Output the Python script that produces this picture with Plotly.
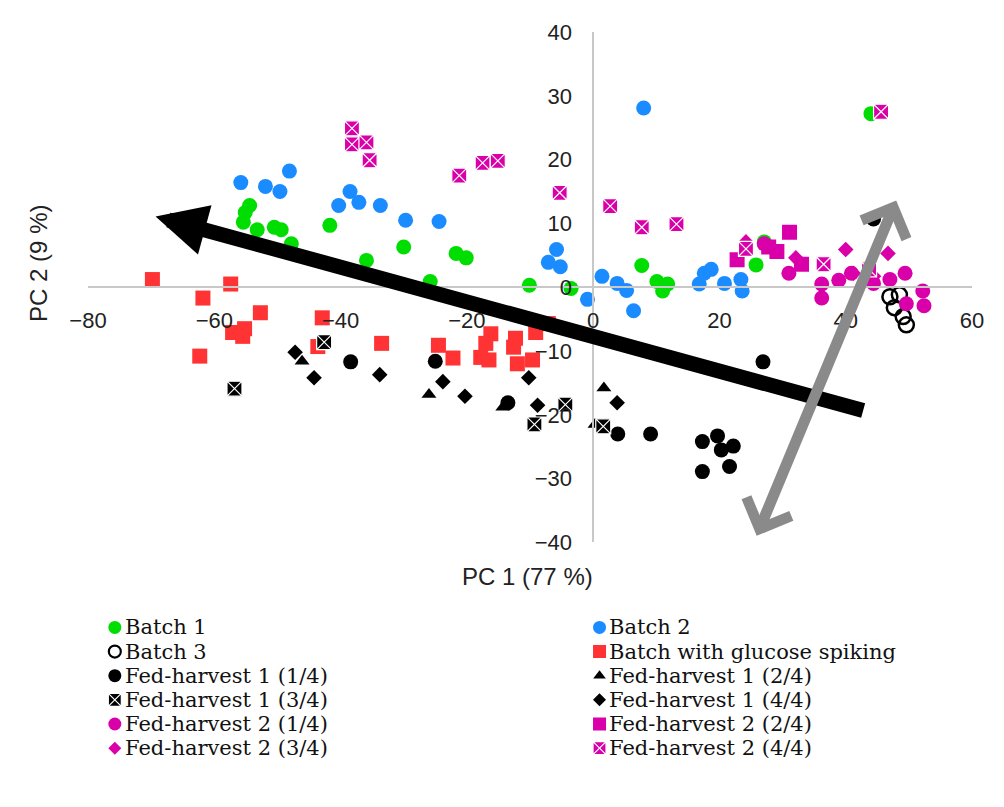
import plotly.graph_objects as go

# ---------------- data ----------------
batch1_x = [-54.4, -55.1, -55.4, -53.2, -50.5, -49.4, -47.8, -41.7, -35.9, -30.0, -25.8, -21.7, -20.1,
            -10.1, -3.5, 7.7, 10.1, 11.0, 11.8, 27.1, 25.8, 44.0]
batch1_y = [12.8, 11.7, 10.2, 9.0, 9.4, 9.0, 6.8, 9.7, 4.2, 6.3, 0.9, 5.3, 4.6,
            0.3, -0.2, 3.4, 0.9, -0.6, 0.5, 7.1, 3.5, 27.2]

batch2_x = [-55.8, -51.9, -49.6, -48.1, -40.3, -38.5, -37.1, -33.7, -29.7, -24.4, -5.8, -7.1, -5.2,
            -0.9, 8.0, 1.4, 3.8, 5.3, 6.4, 16.8, 17.6, 18.7, 20.8, 23.4, 23.6]
batch2_y = [16.4, 15.8, 15.0, 18.2, 12.8, 15.0, 13.3, 12.8, 10.5, 10.3, 5.9, 3.9, 3.2,
            -1.9, 28.1, 1.7, 0.6, -0.5, -3.7, 0.5, 2.2, 2.8, 0.6, 1.2, -0.6]

batch3_x = [47.0, 48.5, 47.7, 49.1, 49.6]
batch3_y = [-1.5, -1.2, -3.2, -4.6, -5.9]

glucose_x = [-69.8, -61.8, -57.4, -52.7, -57.1, -55.2, -55.5, -62.3, -42.9, -43.6, -33.5, -24.5,
             -22.2, -16.2, -17.0, -17.8, -16.5, -12.3, -12.6, -9.1, -12.0, -9.6, -7.1]
glucose_y = [1.2, -1.7, 0.5, -4.0, -7.1, -6.5, -7.7, -10.8, -4.8, -9.3, -8.8, -9.1,
             -11.1, -7.3, -8.8, -11.0, -11.4, -8.0, -9.4, -7.1, -12.0, -11.4, -5.7]

fh1_q1_x = [-38.4, -25.0, -13.5, 26.9, 3.9, 9.1, 17.3, 19.7, 20.3, 22.2, 17.3, 21.6, 44.4]
fh1_q1_y = [-11.7, -11.6, -18.1, -11.7, -23.0, -23.0, -24.2, -23.3, -25.5, -24.9, -28.9, -28.1, 10.7]

fh1_q2_x = [-46.1, -26.0, -14.3, 1.7, 0.3]
fh1_q2_y = [-11.6, -16.8, -18.8, -15.8, -21.5]

fh1_q3_x = [-56.8, -42.6, -4.4, -9.3, 1.6]
fh1_q3_y = [-15.9, -8.6, -18.4, -21.5, -21.8]

fh1_q4_x = [-47.2, -44.2, -33.8, -23.8, -20.3, -10.2, -8.8, 3.8]
fh1_q4_y = [-10.2, -14.2, -13.7, -14.8, -17.1, -14.2, -18.5, -18.1]

fh2_q1_x = [27.1, 31.0, 36.2, 36.2, 38.9, 40.9, 44.4, 47.0, 49.4, 49.6, 52.2, 52.4]
fh2_q1_y = [6.8, 2.2, 0.5, -1.7, 1.1, 2.2, 0.6, 1.2, 2.2, -2.6, -0.6, -2.9]

fh2_q2_x = [22.8, 31.1, 29.1, 33.0, 27.8]
fh2_q2_y = [4.3, 8.6, 5.6, 3.6, 6.3]

fh2_q3_x = [24.2, 32.1, 40.0, 41.2, 46.7, 44.4]
fh2_q3_y = [7.1, 4.6, 5.9, 2.2, 5.3, 1.7]

fh2_q4_x = [-38.2, -38.2, -35.9, -35.4, -21.2, -17.5, -15.1, -5.3, 2.7, 7.7, 13.2, 24.2, 36.5, 45.6, 43.7]
fh2_q4_y = [24.9, 22.4, 22.7, 19.9, 17.5, 19.5, 19.8, 14.8, 12.7, 9.4, 9.9, 6.0, 3.6, 27.5, 2.8]

series_names = ["Batch 1", "Batch 2", "Batch 3", "Batch with glucose spiking",
                "Fed-harvest 1 (1/4)", "Fed-harvest 1 (2/4)", "Fed-harvest 1 (3/4)", "Fed-harvest 1 (4/4)",
                "Fed-harvest 2 (1/4)", "Fed-harvest 2 (2/4)", "Fed-harvest 2 (3/4)", "Fed-harvest 2 (4/4)"]

x_ticks = [-80, -60, -40, -20, 0, 20, 40, 60]
y_ticks = [-40, -30, -20, -10, 0, 10, 20, 30, 40]

x_title = "PC 1 (77 %)"
y_title = "PC 2 (9 %)"

# arrows (annotation end points in data units)
black_arrow_tail = (43.0, -19.4)
black_arrow_tip = (-69.3, 11.1)
gray_arrow_a = (25.8, -39.2)
gray_arrow_b = (48.0, 13.6)

# ---------------- styling ----------------
GREEN = "#00dd00"
BLUE = "#1a8cff"
RED = "#ff3333"
MAG = "#d900aa"
BLACK = "#000000"

styles = [
    dict(symbol="circle", color=GREEN, size=15, lw=0, lc=GREEN, lsize=13),
    dict(symbol="circle", color=BLUE, size=15, lw=0, lc=BLUE, lsize=13),
    dict(symbol="circle-open", color=BLACK, size=15, lw=2.5, lc=BLACK, lsize=12),
    dict(symbol="square", color=RED, size=15, lw=0, lc=RED, lsize=13),
    dict(symbol="circle", color=BLACK, size=15, lw=0, lc=BLACK, lsize=13),
    dict(symbol="triangle-up", color=BLACK, size=13, lw=0, lc=BLACK, lsize=11),
    dict(symbol="square-x", color=BLACK, size=15, lw=1.2, lc="white", lsize=13),
    dict(symbol="diamond", color=BLACK, size=12, lw=0, lc=BLACK, lsize=10),
    dict(symbol="circle", color=MAG, size=15, lw=0, lc=MAG, lsize=13),
    dict(symbol="square", color=MAG, size=15, lw=0, lc=MAG, lsize=13),
    dict(symbol="diamond", color=MAG, size=12, lw=0, lc=MAG, lsize=10),
    dict(symbol="square-x", color=MAG, size=15, lw=1.2, lc="white", lsize=13),
]

series_x = [batch1_x, batch2_x, batch3_x, glucose_x, fh1_q1_x, fh1_q2_x, fh1_q3_x, fh1_q4_x,
            fh2_q1_x, fh2_q2_x, fh2_q3_x, fh2_q4_x]
series_y = [batch1_y, batch2_y, batch3_y, glucose_y, fh1_q1_y, fh1_q2_y, fh1_q3_y, fh1_q4_y,
            fh2_q1_y, fh2_q2_y, fh2_q3_y, fh2_q4_y]

# ---------------- layout geometry (page pixels; page body has an 8 px margin) ----------------
BODY = 8
W, H = 1004 - 2 * BODY, 807 - 2 * BODY
PLOT_L, PLOT_R, PLOT_T, PAPER_B = 88, 978, 27, 780          # page px
MAIN_B = 545
LEG_T, LEG_B = 619, 766
M_L, M_R, M_T, M_B = PLOT_L - BODY, W - (PLOT_R - BODY), PLOT_T - BODY, H - (PAPER_B - BODY)
paper_h = PAPER_B - PLOT_T
paper_w = PLOT_R - PLOT_L


def px2py(py):
    return (PAPER_B - py) / paper_h


def px2px(px):
    return (px - PLOT_L) / paper_w


y_dom0 = px2py(MAIN_B)
leg_dom = [px2py(LEG_B), px2py(LEG_T)]
LEG_COL_SYM = [115, 603]
LEG_TEXT_GAP = 8

fig = go.Figure()

for name, xs, ys, st in zip(series_names, series_x, series_y, styles):
    fig.add_trace(go.Scatter(
        x=xs, y=ys, mode="markers", name=name, showlegend=False,
        marker=dict(symbol=st["symbol"], color=st["color"], size=st["size"],
                    line=dict(width=st["lw"], color=st["lc"])),
        xaxis="x", yaxis="y", hoverinfo="name+x+y"))

# custom legend (2 columns, tight rows)
annotations = []
for i, (name, st) in enumerate(zip(series_names, styles)):
    col, row = i % 2, i // 2
    fig.add_trace(go.Scatter(
        x=[LEG_COL_SYM[col]], y=[-row], mode="markers", showlegend=False, hoverinfo="skip",
        marker=dict(symbol=st["symbol"], color=st["color"], size=st["lsize"],
                    line=dict(width=min(st["lw"], 2.2), color=st["lc"])),
        xaxis="x2", yaxis="y2"))
    annotations.append(dict(
        x=LEG_COL_SYM[col] + LEG_TEXT_GAP, y=-row, xref="x2", yref="y2",
        text=name, showarrow=False, xanchor="left", yanchor="middle",
        font=dict(family="DejaVu Serif, serif", size=21, color="#111")))

# axis titles
TITLE_FONT = dict(family="Liberation Sans, Arial", size=24, color="#222")
annotations.append(dict(x=px2px(530), y=px2py(580), xref="paper", yref="paper", text=x_title,
                        showarrow=False, xanchor="center", yanchor="middle", font=TITLE_FONT))
annotations.append(dict(x=px2px(38), y=px2py(262), xref="paper", yref="paper", text=y_title,
                        showarrow=False, textangle=-90, xanchor="center", yanchor="middle",
                        font=TITLE_FONT))

# arrows
annotations.append(dict(
    x=black_arrow_tip[0], y=black_arrow_tip[1], ax=black_arrow_tail[0], ay=black_arrow_tail[1],
    xref="x", yref="y", axref="x", ayref="y", text="", showarrow=True,
    arrowhead=2, arrowsize=0.68, arrowwidth=15, arrowcolor="#000000", standoff=0))
annotations.append(dict(
    x=gray_arrow_b[0], y=gray_arrow_b[1], ax=gray_arrow_a[0], ay=gray_arrow_a[1],
    xref="x", yref="y", axref="x", ayref="y", text="", showarrow=True,
    arrowhead=4, startarrowhead=4, arrowside="end+start", arrowsize=0.85, startarrowsize=0.85,
    arrowwidth=11, arrowcolor="#8a8a8a", standoff=0, startstandoff=0))

fig.update_layout(
    width=W, height=H,
    margin=dict(l=M_L, r=M_R, t=M_T, b=M_B, pad=0),
    paper_bgcolor="white", plot_bgcolor="white",
    showlegend=False,
    font=dict(family="Liberation Sans, Arial, sans-serif", size=22, color="#222"),
    xaxis=dict(range=[x_ticks[0], x_ticks[-1]], domain=[0, 1], anchor="free",
               position=(y_dom0 + 1) / 2, tickvals=x_ticks, ticks="", showgrid=False,
               zeroline=False, showline=True, linecolor="#c8c8c8", linewidth=1.5,
               ticklabelstandoff=14, tickfont=dict(size=22, color="#222"), fixedrange=True),
    yaxis=dict(range=[y_ticks[0], y_ticks[-1]], domain=[y_dom0, 1], anchor="free",
               position=(0 - x_ticks[0]) / (x_ticks[-1] - x_ticks[0]), tickvals=y_ticks, ticks="",
               showgrid=False, zeroline=False, showline=True, linecolor="#c8c8c8", linewidth=1.5,
               ticklabelstandoff=16, tickfont=dict(size=22, color="#222"), fixedrange=True),
    xaxis2=dict(range=[PLOT_L, PLOT_R], domain=[0, 1], anchor="y2", visible=False, fixedrange=True),
    yaxis2=dict(range=[-5.5, 0.5], domain=leg_dom, anchor="x2", visible=False, fixedrange=True),
    annotations=annotations,
)

fig.write_html("out.html")
